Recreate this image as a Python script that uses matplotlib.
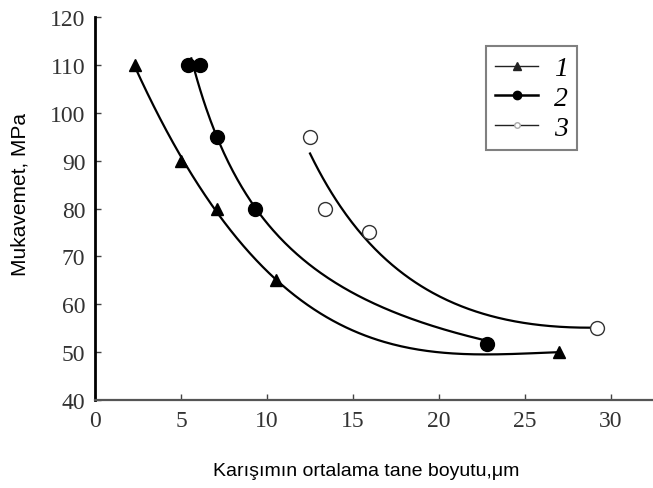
import numpy as np
import matplotlib.pyplot as plt
from matplotlib.lines import Line2D

# mean grain size (um) vs strength (MPa) for the three mixtures
size_1 = [2.3, 5.0, 7.1, 10.5, 27.0]
strength_1 = [110, 90, 80, 65, 50]

size_2 = [5.4, 6.1, 7.1, 9.3, 22.8]
strength_2 = [110, 110, 95, 80, 51.7]

size_3 = [12.5, 13.4, 15.9, 29.2]
strength_3 = [95, 80, 75, 55]

series_labels = ['1', '2', '3']
x_ticks = [0, 5, 10, 15, 20, 25, 30]
y_ticks = [40, 50, 60, 70, 80, 90, 100, 110, 120]


def fit_inv_lin(x, y, xs):
    # least squares fit of y = a + b/x + c*x
    x = np.asarray(x, float)
    A = np.column_stack([np.ones_like(x), 1 / x, x])
    a, b, c = np.linalg.lstsq(A, np.asarray(y, float), rcond=None)[0]
    return a + b / xs + c * xs


fig = plt.figure(figsize=(6.53, 4.89), dpi=100)
ax = fig.add_axes([0.1455, 0.180, 0.8545, 0.783])

# trend curves
xs = np.linspace(min(size_1), max(size_1), 200)
ax.plot(xs, np.polyval(np.polyfit(size_1, strength_1, 3), xs), color='black', lw=1.6)

xs = np.linspace(5.6, max(size_2), 200)
c2 = np.polyfit(1 / np.array(size_2), strength_2, 1)
ax.plot(xs, np.polyval(c2, 1 / xs), color='black', lw=1.6)

xs = np.linspace(min(size_3), max(size_3), 200)
ax.plot(xs, fit_inv_lin(size_3, strength_3, xs), color='black', lw=1.6)

# measured points
ax.plot(size_1, strength_1, '^', color='black', ms=9, ls='none')
ax.plot(size_2, strength_2, 'o', color='black', ms=10, ls='none')
ax.plot(size_3, strength_3, 'o', mfc='white', mec='#333333', mew=1.0, ms=10, ls='none')

ax.set_xlim(0, 32.44)
ax.set_ylim(40, 120)
ax.set_xticks(x_ticks)
ax.set_yticks(y_ticks)
ax.tick_params(direction='in', length=4, width=1, pad=7, labelsize=17, color='#444444')
for lab in ax.get_xticklabels() + ax.get_yticklabels():
    lab.set_family('Liberation Serif')
    lab.set_color('#333333')

ax.spines['top'].set_visible(False)
ax.spines['right'].set_visible(False)
ax.spines['left'].set_linewidth(2)
ax.spines['left'].set_color('black')
ax.spines['bottom'].set_linewidth(1.6)
ax.spines['bottom'].set_color('#555555')

ax.set_xlabel('Karışımın ortalama tane boyutu,μm', family='Liberation Sans', fontsize=14)
ax.xaxis.set_label_coords(0.486, -0.185)
ax.xaxis.label.set_va('center')
ax.set_ylabel('Mukavemet, MPa', family='Liberation Sans', fontsize=15)
ax.yaxis.set_label_coords(-0.134, 0.538)
ax.yaxis.label.set_va('center')

handles = [
    Line2D([], [], color='#222222', lw=1.0, marker='^', ms=6),
    Line2D([], [], color='black', lw=1.8, marker='o', ms=6),
    Line2D([], [], color='#222222', lw=1.0, marker='o', ms=4, mfc='white', mec='#aaaaaa'),
]
leg = ax.legend(handles, series_labels, loc='upper left', bbox_to_anchor=(0.70, 0.924),
                prop={'family': 'Liberation Serif', 'style': 'italic', 'size': 20},
                fancybox=False, edgecolor='#808080', framealpha=1,
                handlelength=1.55, handletextpad=0.55, labelspacing=0.15,
                borderpad=0.35, borderaxespad=0)
leg.get_frame().set_linewidth(1.5)

fig.savefig('out.png', dpi=100)
